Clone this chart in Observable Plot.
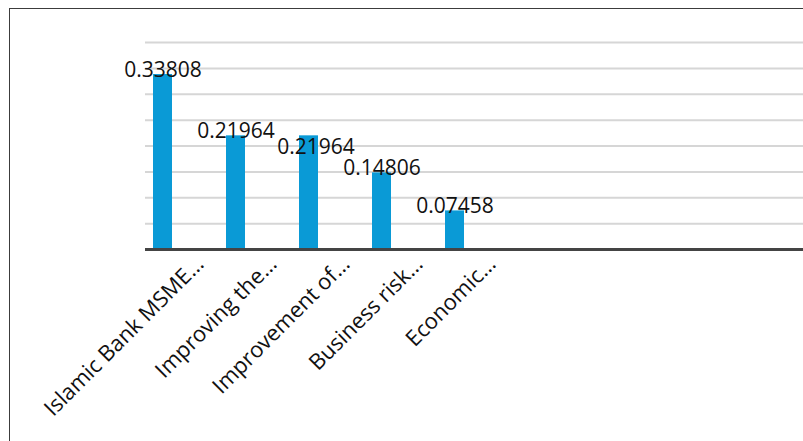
<!DOCTYPE html>
<html>
<head>
<meta charset="utf-8">
<script src="https://cdn.jsdelivr.net/npm/d3@7"></script>
<script src="https://cdn.jsdelivr.net/npm/@observablehq/plot@0.6"></script>
<style>
  html, body { margin: 0; padding: 0; background: #fff; overflow: hidden; }
  #wrap { position: relative; width: 803px; height: 441px; overflow: hidden; }
  #frame { position: absolute; left: 9px; top: 8px; width: 900px; height: 600px;
           border: 1.5px solid #3c3c3c; box-sizing: border-box; }
  #chart { position: absolute; left: 0; top: 0; }
  #chart svg { display: block; }
</style>
</head>
<body>
<div id="wrap">
  <div id="frame"></div>
  <div id="chart"></div>
</div>
<script>
const categories = ["Islamic Bank MSME…", "Improving the…", "Improvement of…", "Business risk…", "Economic…"];
const values = [0.33808, 0.21964, 0.21964, 0.14806, 0.07458];
const valueLabels = ["0.33808", "0.21964", "0.21964", "0.14806", "0.07458"];
const yTicks = [0.05, 0.10, 0.15, 0.20, 0.25, 0.30, 0.35, 0.40];

const data = categories.map((c, i) => ({
  cat: c, value: values[i], label: valueLabels[i],
  repeat: i > 0 && values[i] === values[i - 1]
}));
const firstOfValue = data.filter(d => !d.repeat);
const repeated = data.filter(d => d.repeat);

const font = "'Open Sans', 'Noto Sans', sans-serif";

const chart = Plot.plot({
  width: 803,
  height: 441,
  marginLeft: 145,
  marginRight: 0,
  marginTop: 42,
  marginBottom: 192,
  style: {fontFamily: font, background: "transparent", color: "#111"},
  x: {domain: categories, range: [145, 471], paddingInner: 0.74, paddingOuter: 0.08, axis: null},
  y: {domain: [0, 0.4], axis: null},
  marks: [
    Plot.ruleY(yTicks, {stroke: "#d6d6d6", strokeWidth: 2}),
    Plot.barY(data, {x: "cat", y: "value", fill: "#0a9ad6"}),
    Plot.ruleY([0], {stroke: "#444", strokeWidth: 3}),
    Plot.text(firstOfValue, {x: "cat", y: "value", text: "label", lineAnchor: "bottom", dy: 2,
      fontSize: 21, fill: "#111"}),
    Plot.text(repeated, {x: "cat", y: "value", text: "label", lineAnchor: "bottom", dx: 7, dy: 18,
      fontSize: 21, fill: "#111"}),
    Plot.text(data, {x: "cat", text: "cat", frameAnchor: "bottom", rotate: -45,
      textAnchor: "end", lineAnchor: "bottom", dx: 42, dy: 16, fontSize: 22, fill: "#111"})
  ]
});
document.getElementById("chart").appendChild(chart);
</script>
</body>
</html>
